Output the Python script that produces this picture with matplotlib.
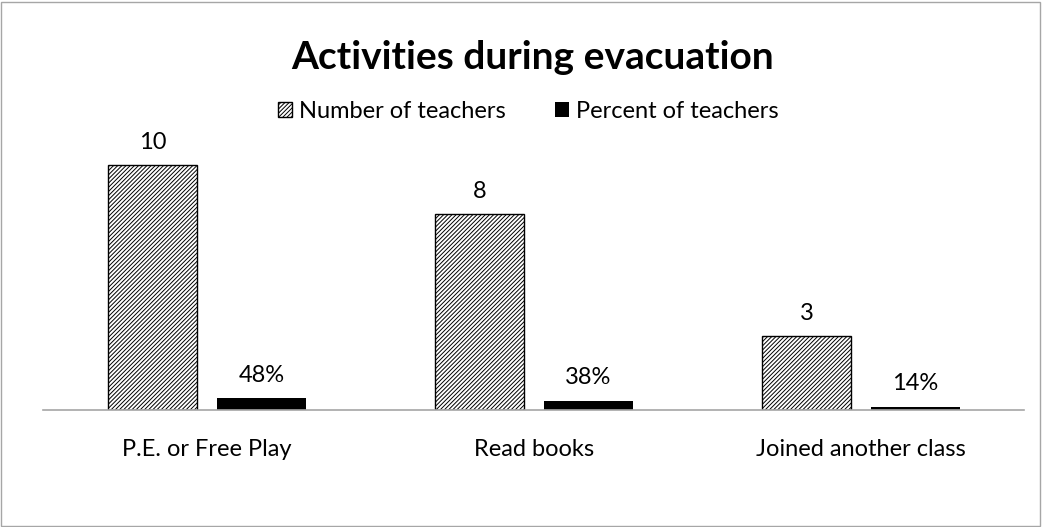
import matplotlib.pyplot as plt
import numpy as np
from matplotlib.patches import Rectangle

categories = ["P.E. or Free Play", "Read books", "Joined another class"]
num_teachers = [10, 8, 3]
pct_teachers = [0.48, 0.38, 0.14]
pct_labels = ["48%", "38%", "14%"]

plt.rcParams['font.family'] = ['Lato', 'DejaVu Sans']
plt.rcParams['hatch.linewidth'] = 0.7

fig = plt.figure(figsize=(10.42, 5.27), dpi=100)
ax = fig.add_axes([0.0417, 0.222, 0.9415, 0.558])

x = np.arange(len(categories))
w = 0.272
off = 0.167
b1 = ax.bar(x - off, num_teachers, w, facecolor='white', edgecolor='black',
            linewidth=1.0, hatch='////////', label='Number of teachers')
b2 = ax.bar(x + off, pct_teachers, w, color='black', label='Percent of teachers')

for xi, v in zip(x, num_teachers):
    ax.text(xi - off, v + 0.5, str(v), ha='center', va='bottom', fontsize=17)
for xi, v, s in zip(x, pct_teachers, pct_labels):
    ax.text(xi + off, v + 0.5, s, ha='center', va='bottom', fontsize=17)

ax.set_xlim(-0.5, 2.5)
ax.set_ylim(0, 12)
ax.set_yticks([])
ax.set_xticks(x)
ax.set_xticklabels(categories, fontsize=17)
ax.tick_params(axis='x', length=0, pad=21)
for s in ['top', 'left', 'right']:
    ax.spines[s].set_visible(False)
ax.spines['bottom'].set_color('#a6a6a6')
ax.spines['bottom'].set_linewidth(1.2)

fig.text(0.5106, 0.89, "Activities during evacuation", ha='center', va='center',
         fontsize=28, fontweight='bold')
fig.legend(handles=[b1, b2], loc='center', bbox_to_anchor=(0.507, 0.789), ncol=2,
           frameon=False, fontsize=17, handlelength=0.6, handleheight=0.6,
           handletextpad=0.3, columnspacing=2.1)

fig.patches.append(Rectangle((0.001, 0.002), 0.997, 0.995, transform=fig.transFigure,
                             fill=False, edgecolor='#a6a6a6', linewidth=1.0))

fig.savefig('out.png', dpi=100)
